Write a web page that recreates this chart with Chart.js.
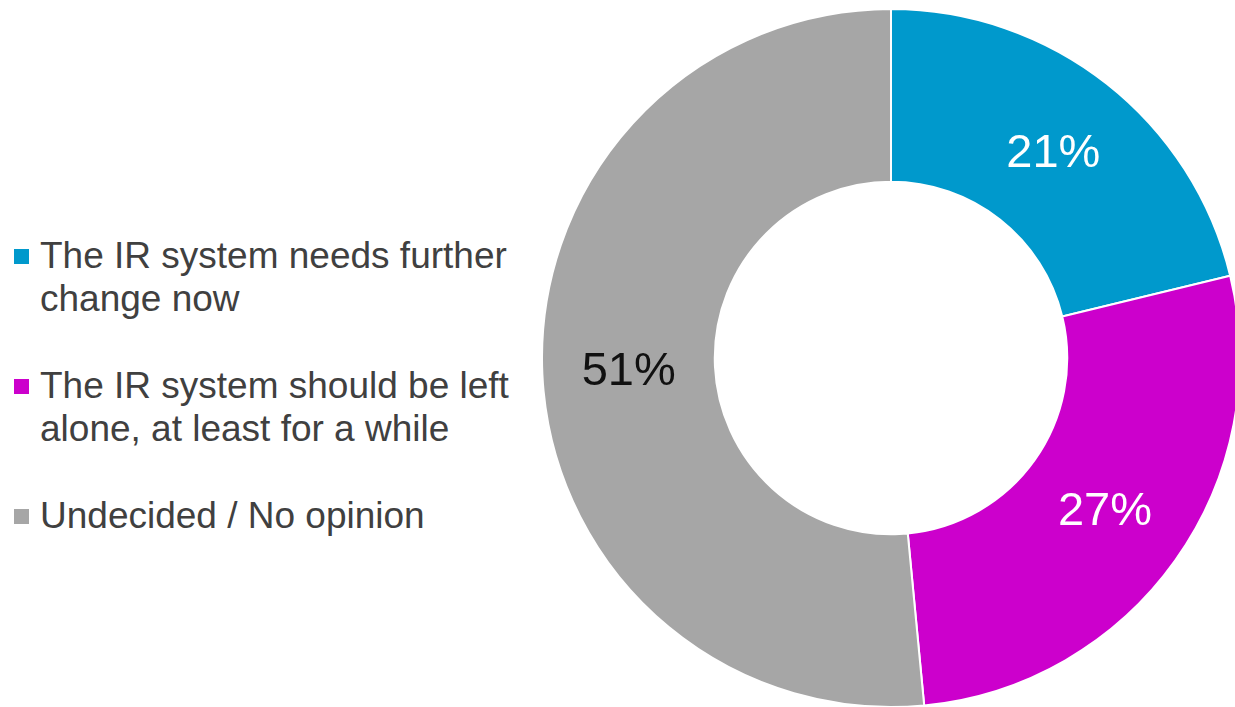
<!DOCTYPE html>
<html>
<head>
<meta charset="utf-8">
<script src="https://cdn.jsdelivr.net/npm/chart.js@4"></script>
<style>
  html, body { margin: 0; padding: 0; background: #fff; overflow: hidden; }
  body { width: 1235px; height: 707px; position: relative; font-family: "Liberation Sans", Arial, sans-serif; }
  #legend { position: absolute; left: 0; top: 234px; display: flex; flex-direction: column; gap: 44px; }
  .item { position: relative; padding-left: 40px; width: 480px; font-size: 37px; line-height: 43px; color: #404040; }
  .box { position: absolute; left: 14px; top: 15px; width: 15px; height: 15px; }
  #chartWrap { position: absolute; left: 541px; top: 8px; width: 700px; height: 700px; }
</style>
</head>
<body>
<div id="legend"></div>
<div id="chartWrap"><canvas id="pie" width="700" height="700"></canvas></div>
<script>
const labels = [
  "The IR system needs further change now",
  "The IR system should be left alone, at least for a while",
  "Undecided / No opinion"
];
const values = [21, 27, 51];
const valueLabels = ["21%", "27%", "51%"];
const colors = ["#0099CC", "#CC00CC", "#A6A6A6"];
const labelColors = ["#ffffff", "#ffffff", "#111111"];

// legend on the left, built from the same arrays
const legend = document.getElementById("legend");
labels.forEach((text, i) => {
  const item = document.createElement("div");
  item.className = "item";
  const box = document.createElement("span");
  box.className = "box";
  box.style.background = colors[i];
  item.appendChild(box);
  item.appendChild(document.createTextNode(text));
  legend.appendChild(item);
});

/* percentage labels inside slices */
const sliceLabels = {
  id: 'sliceLabels',
  afterDatasetsDraw(chart) {
    const {ctx} = chart;
    const meta = chart.getDatasetMeta(0);
    ctx.save();
    ctx.font = '47px "Liberation Sans", Arial, sans-serif';
    ctx.textAlign = 'center';
    ctx.textBaseline = 'middle';
    meta.data.forEach((arc, i) => {
      const pos = arc.tooltipPosition();
      ctx.fillStyle = labelColors[i];
      ctx.fillText(valueLabels[i], pos.x, pos.y + 2);
    });
    ctx.restore();
  }
};

new Chart(document.getElementById("pie"), {
  type: "doughnut",
  data: {
    labels: labels,
    datasets: [{
      data: values,
      backgroundColor: colors,
      borderColor: "#ffffff",
      borderWidth: 2
    }]
  },
  options: {
    responsive: false,
    animation: false,
    cutout: "50.5%",
    layout: { padding: 0 },
    plugins: {
      legend: { display: false },
      tooltip: { enabled: false }
    }
  },
  plugins: [sliceLabels]
});
</script>
</body>
</html>
